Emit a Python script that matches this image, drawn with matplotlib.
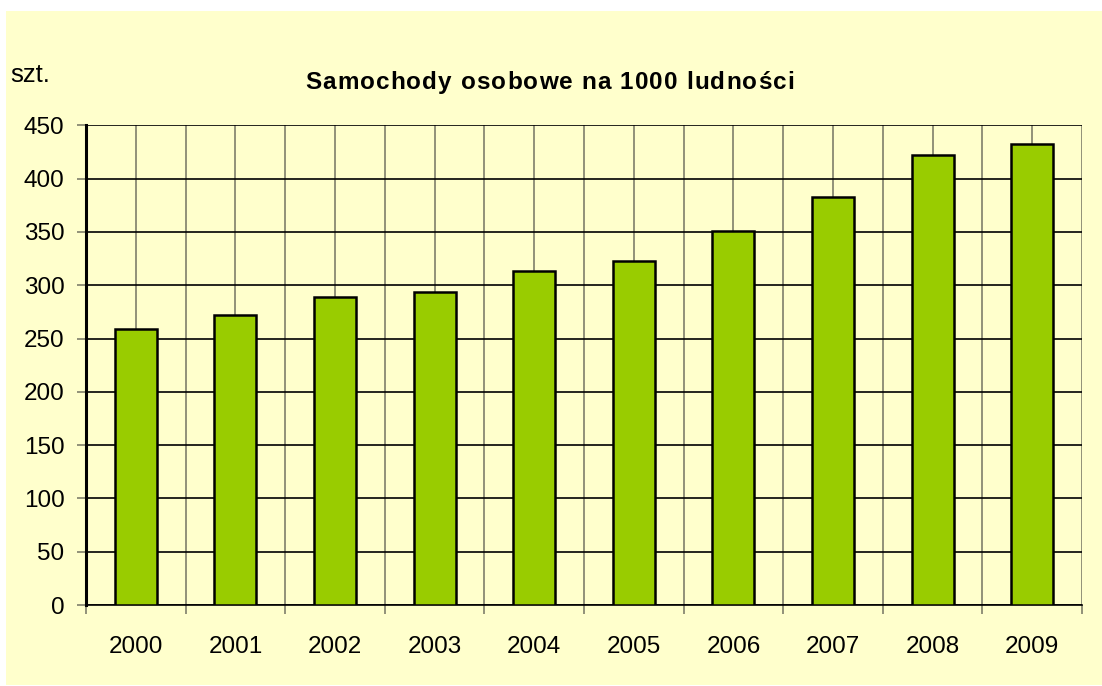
import matplotlib
matplotlib.use("Agg")
import matplotlib.pyplot as plt
from matplotlib.patches import Rectangle
from matplotlib.textpath import TextPath
from matplotlib.font_manager import FontProperties
import numpy as np

years = ["2000", "2001", "2002", "2003", "2004", "2005", "2006", "2007", "2008", "2009"]
values = [259, 272, 289, 294, 313, 323, 351, 383, 422, 432]
y_ticks = [0, 50, 100, 150, 200, 250, 300, 350, 400, 450]

title = "Samochody osobowe na 1000 ludności"
unit = "szt."

W, H = 1102, 686
bg = "#FFFFCC"
bar_color = "#99CC00"
grid_gray = "#7F7F6A"

plt.rcParams['font.family'] = ['Liberation Sans', 'DejaVu Sans']

fig = plt.figure(figsize=(W / 100, H / 100), dpi=100)
fig.patch.set_facecolor("white")
bgrect = Rectangle((6 / W, 1 - 685 / H), (W - 6) / W, (685 - 11) / H,
                   transform=fig.transFigure, facecolor=bg, edgecolor="none", zorder=-10)
fig.add_artist(bgrect)

ax = fig.add_axes([86 / W, 1 - 605 / H, (1082 - 86) / W, (605 - 125.3) / H])
ax.set_zorder(2)
ax.set_facecolor(bg)

x = np.arange(len(years))
ax.set_xlim(-0.5, len(years) - 0.5)
ax.set_ylim(0, 450)

# vertical gridlines at centers and boundaries
for xc in x:
    ax.axvline(xc, color=grid_gray, lw=1.2, zorder=1)
for xb in np.arange(-0.5, len(years), 1.0):
    ax.axvline(xb, color=grid_gray, lw=1.2, zorder=1)
for yt in y_ticks:
    ax.axhline(yt, color="black", lw=1.2, zorder=1)

ax.bar(x, values, width=0.42, color=bar_color, edgecolor="black", linewidth=1.8, zorder=3)

ax.set_yticks(y_ticks)
ax.set_yticklabels([str(v) for v in y_ticks], fontsize=17.5)
ax.set_xticks(x)
ax.set_xticklabels(years, fontsize=17.5)
ax.set_xticks(np.arange(-0.5, len(years), 1.0), minor=True)
ax.tick_params(axis="x", which="major", length=0, pad=22)
ax.tick_params(axis="x", which="minor", length=6.5, width=1.2, color=grid_gray, direction="out")
ax.tick_params(axis="y", which="major", length=6.5, width=1.2, color=grid_gray, pad=9)

for s in ["top", "right"]:
    ax.spines[s].set_visible(False)
ax.spines["left"].set_linewidth(2.2)
ax.spines["left"].set_color("black")
ax.spines["left"].set_zorder(5)
ax.spines["bottom"].set_linewidth(1.2)
ax.spines["bottom"].set_color("black")

# title with letter spacing (drawn char by char, positions from font metrics)
tsize = 17.5
fp = FontProperties(family="Liberation Sans", weight="bold", size=tsize)
px_per_pt = 100 / 72.0
spacing_px = 1.1

def adv(s):
    return TextPath((0, 0), s, prop=fp).get_extents().width

# advance widths via pairwise measurement
widths = []
for i, ch in enumerate(title):
    # advance = width(prefix+ch+'|') - width(prefix+'|') approximated by string widths
    w1 = TextPath((0, 0), "|" + title[:i + 1] + "|", prop=fp).get_extents().width
    w0 = TextPath((0, 0), "|" + title[:i] + "|", prop=fp).get_extents().width
    widths.append((w1 - w0) * px_per_pt)
total = sum(widths) + spacing_px * (len(title) - 1)
cx = 549.5
start = cx - total / 2
xpos = start
for ch, w in zip(title, widths):
    fig.text(xpos / W, 1 - 89 / H, ch, ha="left", va="baseline",
             fontsize=tsize, fontweight="bold")
    xpos += w + spacing_px

fig.text(10 / W, 1 - 82.5 / H, unit, ha="left", va="baseline", fontsize=18.5)

fig.savefig("out.png", dpi=100, facecolor=fig.get_facecolor())
